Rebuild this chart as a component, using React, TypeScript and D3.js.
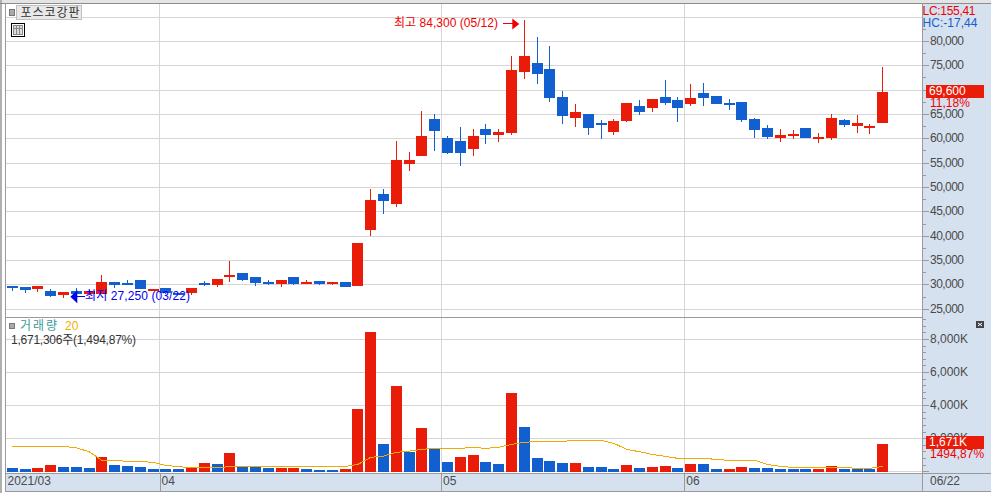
import React from "react";
import * as d3 from "d3";

// daily candles, 2021/03 ~ 2021/06
const opens = [29800, 29600, 29150, 28750, 27950, 28750, 28150, 28150, 30600, 30400, 31000, 28750, 29400, 28350, 28350, 30400, 30000, 31650, 32450, 31650, 30600, 30200, 31650, 30200, 30800, 30200, 30600, 29800, 41300, 48650, 46600, 54800, 56450, 64050, 60150, 59550, 57900, 62000, 60750, 61200, 73700, 75550, 74300, 68550, 64250, 65100, 63250, 61400, 63650, 66700, 66300, 68550, 67950, 67150, 69400, 68800, 67350, 67550, 64050, 62200, 60150, 60750, 62200, 60150, 60150, 63850, 62600, 62200, 63250];
const highs = [29800, 29600, 29800, 29150, 28550, 29400, 29000, 32050, 30600, 31000, 31000, 29200, 29400, 28350, 29400, 30800, 31200, 34900, 32450, 31650, 31000, 31000, 31650, 31000, 30800, 30600, 30600, 38600, 49700, 49700, 59550, 57300, 65700, 65100, 60550, 62400, 62000, 63050, 62000, 77000, 84300, 80900, 79050, 69800, 67150, 65100, 63850, 64050, 67350, 67950, 68150, 72050, 68550, 71250, 71450, 68800, 68150, 67550, 64250, 62800, 62000, 61800, 62200, 61200, 65100, 64050, 64900, 63050, 74700];
const lows = [28800, 28350, 28550, 27550, 27400, 27250, 27950, 28150, 29400, 30000, 29200, 28750, 28150, 27950, 27950, 29800, 29600, 30600, 30800, 29800, 30000, 29600, 30000, 30200, 30000, 30000, 29600, 29800, 40050, 44550, 46000, 53400, 56450, 57500, 56850, 54400, 56450, 58950, 59350, 60750, 72250, 71250, 67550, 63050, 62400, 60750, 59950, 60750, 63450, 64900, 65500, 66950, 63450, 66700, 66700, 67150, 65900, 63450, 60150, 59950, 59350, 59950, 60150, 59150, 59750, 62400, 61200, 61000, 63250];
const closes = [29700, 29000, 29800, 27750, 28550, 28150, 28750, 30600, 30000, 30000, 29200, 29200, 28350, 28000, 29400, 30000, 31200, 32050, 31000, 30400, 30200, 31000, 30200, 30600, 30200, 30600, 29600, 38600, 47450, 47250, 55650, 55650, 60550, 61600, 57100, 57100, 60550, 60750, 61400, 74100, 77000, 73300, 68350, 64650, 65500, 62200, 62800, 63650, 67350, 65500, 68150, 67350, 66300, 68350, 68350, 67150, 67150, 63850, 61800, 60350, 60750, 61000, 60150, 60350, 64250, 62800, 63250, 62600, 69600];

// volume in thousands of shares, coloured by change against the previous session
const volumes = [240, 180, 240, 420, 300, 300, 240, 910, 420, 360, 300, 180, 180, 180, 240, 545, 485, 1150, 300, 300, 240, 240, 240, 180, 120, 120, 180, 3820, 8480, 1700, 5210, 1210, 2670, 1390, 610, 910, 1030, 610, 485, 4790, 2730, 850, 670, 545, 545, 300, 300, 180, 420, 240, 300, 360, 240, 485, 485, 180, 180, 300, 240, 240, 180, 180, 180, 180, 360, 180, 180, 180, 1671];
const volumeUp = [0, 0, 1, 1, 0, 0, 0, 1, 0, 0, 0, 0, 0, 0, 1, 1, 0, 1, 0, 0, 0, 1, 1, 0, 0, 0, 1, 1, 1, 0, 1, 0, 1, 0, 0, 1, 1, 0, 0, 1, 0, 0, 0, 0, 1, 0, 0, 0, 1, 0, 1, 1, 0, 1, 0, 0, 1, 1, 0, 0, 0, 0, 0, 1, 1, 0, 0, 0, 1];
const volumeMa = [1533, 1533, 1533, 1533, 1533, 1448, 1206, 685, 685, 624, 624, 564, 382, 297, 260, 260, 260, 297, 297, 297, 297, 297, 297, 297, 297, 300, 321, 442, 867, 945, 1170, 1248, 1352, 1412, 1412, 1412, 1473, 1412, 1473, 1655, 1776, 1836, 1836, 1836, 1897, 1897, 1897, 1715, 1352, 1206, 1048, 927, 806, 806, 806, 745, 685, 685, 685, 442, 321, 260, 260, 260, 260, 260, 200, 200, 321];

const priceTicks = [25000, 30000, 35000, 40000, 45000, 50000, 55000, 60000, 65000, 70000, 75000, 80000];
const priceGrid = [...priceTicks, 85000];
const volumeTicks = [0, 2000, 4000, 6000, 8000];
const monthStarts = [12, 34, 53];
const monthLabels = ["04", "05", "06"];
const highIndex = 40;
const lowIndex = 5;

const RED = "#e91c0a";
const BLUE = "#125fcf";
const GRID = "#d6d6d6";
const EDGE = "#9a9a9a";
const PANEL = "#d6e1ef";
const TICK_TEXT = "#4a4a4a";
const FONT = '"Liberation Sans", "Noto Sans CJK KR", sans-serif';

const LEFT = 5.5;
const RIGHT = 922.5;

const x = d3
  .scaleBand<number>()
  .domain(d3.range(closes.length))
  .range([5.9, 889.1])
  .paddingInner(0.14)
  .paddingOuter(0.07);
const cx = (i: number) => (x(i) as number) + x.bandwidth() / 2;

const yPrice = d3.scaleLinear().domain([25000, 85000]).range([309.3, 17]);
const yVolume = d3.scaleLinear().domain([0, 8000]).range([471.7, 339.5]);

const maLine = d3
  .line<number>()
  .x((_, i) => cx(i))
  .y((d) => yVolume(d));

const Label = (props: any) => (
  <text fontFamily={FONT} fontSize={12} dominantBaseline="central" {...props} />
);

export default function App() {
  return (
    <svg
      width={991}
      height={493}
      style={{ position: "absolute", left: 0, top: 0, display: "block", background: "#fff" }}
    >
      {/* outer frame */}
      <rect x={0} y={0} width={991} height={3} fill="#e4e4e4" />
      <rect x={0} y={0} width={2} height={493} fill="#b0b0b0" />
      <rect x={RIGHT} y={3} width={991 - RIGHT} height={488} fill={PANEL} />
      <rect x={5} y={473} width={986} height={18} fill={PANEL} />

      {/* grid */}
      <g stroke={GRID} shapeRendering="crispEdges">
        {priceGrid.map((t) => (
          <line key={t} x1={LEFT} x2={RIGHT} y1={yPrice(t)} y2={yPrice(t)} />
        ))}
        {volumeTicks.map((t) => (
          <line key={t} x1={LEFT} x2={RIGHT} y1={yVolume(t)} y2={yVolume(t)} />
        ))}
        {monthStarts.map((m) => (
          <line key={m} x1={cx(m) - x.step() / 2} x2={cx(m) - x.step() / 2} y1={4} y2={473} />
        ))}
      </g>

      {/* candles */}
      <g shapeRendering="crispEdges">
        {closes.map((c, i) => {
          const color = c >= opens[i] ? RED : BLUE;
          const top = Math.round(yPrice(Math.max(c, opens[i])));
          const bottom = Math.round(yPrice(Math.min(c, opens[i])));
          return (
            <g key={i} fill={color}>
              <rect
                x={Math.floor(cx(i))}
                y={yPrice(highs[i])}
                width={1}
                height={yPrice(lows[i]) - yPrice(highs[i])}
              />
              <rect
                x={Math.round(cx(i) - 5.5)}
                y={top}
                width={11}
                height={Math.max(bottom - top, 2)}
              />
            </g>
          );
        })}
      </g>

      {/* high / low marks */}
      <Label x={394} y={yPrice(highs[highIndex]) + 3} fill="#f00000" textLength={104}>
        최고 84,300 (05/12)
      </Label>
      <rect
        x={cx(highIndex) - 21}
        y={yPrice(highs[highIndex]) + 3}
        width={11}
        height={1}
        fill="#f00000"
        shapeRendering="crispEdges"
      />
      <path
        d={d3.line()([
          [cx(highIndex) - 12, yPrice(highs[highIndex]) - 2],
          [cx(highIndex) - 5, yPrice(highs[highIndex]) + 3.5],
          [cx(highIndex) - 12, yPrice(highs[highIndex]) + 9],
        ]) as string}
        fill="#f00000"
      />
      <Label x={85} y={yPrice(lows[lowIndex]) - 2} fill="#0000f0" textLength={105}>
        최저 27,250 (03/22)
      </Label>
      <rect x={cx(lowIndex)} y={yPrice(lows[lowIndex]) - 2} width={9} height={1} fill="#0000f0" shapeRendering="crispEdges" />
      <path
        d={d3.line()([
          [cx(lowIndex) + 1, yPrice(lows[lowIndex]) - 8],
          [cx(lowIndex) - 6, yPrice(lows[lowIndex]) - 1.5],
          [cx(lowIndex) + 1, yPrice(lows[lowIndex]) + 5],
        ]) as string}
        fill="#0000f0"
      />

      {/* volume */}
      <g shapeRendering="crispEdges">
        {volumes.map((v, i) => (
          <rect
            key={i}
            x={Math.round(cx(i) - 5.5)}
            y={Math.round(yVolume(v))}
            width={11}
            height={472 - Math.round(yVolume(v))}
            fill={volumeUp[i] ? RED : BLUE}
          />
        ))}
      </g>
      <path
        d={maLine(volumeMa) as string}
        fill="none"
        stroke="#f0aa00"
        strokeWidth={1}
        shapeRendering="crispEdges"
      />

      {/* frame lines */}
      <g fill={EDGE} shapeRendering="crispEdges">
        <rect x={0} y={3} width={991} height={1} fill="#8c8c8c" />
        <rect x={5} y={3} width={1} height={488} />
        <rect x={922} y={3} width={1} height={488} />
        <rect x={5} y={317} width={917} height={1} />
        <rect x={5} y={473} width={986} height={1} />
        <rect x={5} y={491} width={986} height={1} />
        {monthStarts.map((m) => (
          <rect key={m} x={Math.round(cx(m) - x.step() / 2)} y={473} width={1} height={18} />
        ))}
      </g>

      {/* price axis */}
      <g stroke={EDGE} shapeRendering="crispEdges">
        {priceTicks.map((t) => (
          <line key={t} x1={923} x2={929} y1={yPrice(t)} y2={yPrice(t)} />
        ))}
        {priceTicks.map((t) => (
          <line key={t} x1={923} x2={926} y1={yPrice(t + 2500)} y2={yPrice(t + 2500)} />
        ))}
      </g>
      {priceTicks.map((t) => (
        <Label key={t} x={930} y={yPrice(t) - 0.5} fill={TICK_TEXT} textLength={34}>
          {d3.format(",")(t)}
        </Label>
      ))}

      {/* volume axis */}
      <g stroke={EDGE} shapeRendering="crispEdges">
        {d3.range(0, 9400, 400).map((t) => (
          <line
            key={t}
            x1={923}
            x2={t % 2000 === 0 ? 929 : 926}
            y1={yVolume(t)}
            y2={yVolume(t)}
          />
        ))}
      </g>
      {volumeTicks.slice(1).map((t) => (
        <Label key={t} x={930} y={yVolume(t) - 1} fill={TICK_TEXT}>
          {d3.format(",")(t)}K
        </Label>
      ))}

      {/* time axis */}
      <Label x={7.5} y={481} fill={TICK_TEXT}>2021/03</Label>
      {monthStarts.map((m, i) => (
        <Label key={m} x={cx(m) - x.step() / 2 + 2} y={481} fill={TICK_TEXT}>
          {monthLabels[i]}
        </Label>
      ))}
      <Label x={930} y={481} fill={TICK_TEXT}>06/22</Label>

      {/* current value boxes */}
      <rect x={926} y={85} width={58} height={13} fill={RED} shapeRendering="crispEdges" />
      <Label x={929} y={91} fill="#fff">69,600</Label>
      <Label x={930} y={103} fill="#f00000">11,18%</Label>
      <rect x={926} y={436} width={58} height={13} fill={RED} shapeRendering="crispEdges" />
      <Label x={929} y={442} fill="#fff">1,671K</Label>
      <Label x={930} y={453.5} fill="#f00000">1494,87%</Label>

      <Label x={922.5} y={11} fill="#f00000" textLength={53}>LC:155,41</Label>
      <Label x={922.5} y={23} fill={BLUE} textLength={55}>HC:-17,44</Label>

      {/* pane titles */}
      <rect x={9.5} y={9.5} width={5} height={6} fill="#aaa" stroke="#777" shapeRendering="crispEdges" />
      <rect x={16.5} y={5.5} width={65} height={14} fill="#e8e8e8" stroke="#c0c0c0" shapeRendering="crispEdges" />
      <Label x={20.5} y={12.5} fill="#333" textLength={59}>포스코강판</Label>

      <rect x={11.5} y={23.5} width={13} height={13} fill="#fff" stroke="#000" shapeRendering="crispEdges" />
      <rect x={13.5} y={25.5} width={9} height={9} fill="#ddd" stroke="#888" shapeRendering="crispEdges" />
      <path d="M16.5 25.5V34.5M19.5 25.5V34.5M13.5 28.5H22.5" stroke="#888" shapeRendering="crispEdges" />

      <rect x={9.5} y={323.5} width={5} height={5} fill="#aaa" stroke="#777" shapeRendering="crispEdges" />
      <Label x={20} y={326} fill="#3a9a98" textLength={37}>거래량</Label>
      <Label x={65} y={326} fill="#f0b000">20</Label>
      <Label x={11} y={339.5} fill="#333" textLength={125}>1,671,306주(1,494,87%)</Label>

      {/* pane close button */}
      <rect x={976} y={321} width={8} height={7} fill="#444" shapeRendering="crispEdges" />
      <path d="M978 323L982 326M982 323L978 326" stroke="#fff" />
    </svg>
  );
}
